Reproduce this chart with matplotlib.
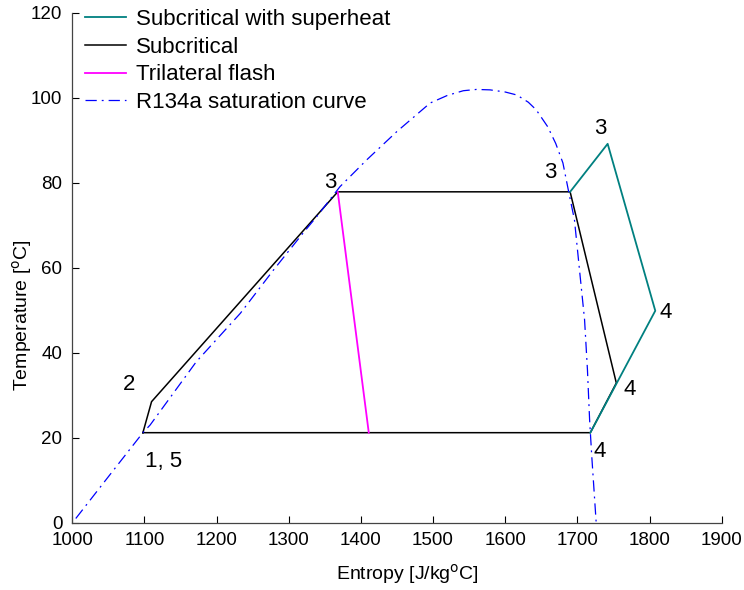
import matplotlib
matplotlib.use("Agg")
import matplotlib.pyplot as plt

plt.rcParams['font.family'] = ['Liberation Sans', 'DejaVu Sans']
plt.rcParams['font.size'] = 13.5

# cycle points (entropy J/kgC, temperature C)
sub_s = [1098, 1110, 1368, 1690, 1754, 1718, 1098]
sub_t = [21.2, 28.5, 77.9, 77.9, 32.9, 21.2, 21.2]

superheat_s = [1690, 1742, 1808, 1718]
superheat_t = [77.9, 89.2, 49.9, 21.2]

flash_s = [1368, 1411]
flash_t = [77.9, 21.2]

# R134a saturation dome
sat_s = [1005, 1050, 1098, 1108, 1172, 1233, 1279, 1320, 1339, 1371, 1408, 1450,
         1496, 1520, 1542, 1560, 1579, 1600, 1616, 1632, 1643, 1659, 1670, 1680,
         1688, 1696, 1703, 1710, 1714, 1717, 1720, 1726]
sat_t = [1.0, 10.8, 21.2, 23.0, 37.9, 49.3, 59.5, 68.2, 72.1, 79.1, 85.4, 92.1,
         98.8, 100.6, 101.7, 102.0, 101.9, 101.4, 100.7, 99.0, 97.2, 93.2, 89.3,
         84.7, 77.9, 71.3, 59.5, 47.8, 36.0, 24.2, 15.6, 0.3]

labels = ["3", "3", "3", "2", "1, 5", "4", "4", "4"]
label_s = [1357, 1663, 1732, 1079, 1126, 1822, 1773, 1731]
label_t = [80.2, 82.4, 92.7, 32.5, 14.4, 49.4, 31.3, 16.7]

fig = plt.figure(figsize=(7.44, 5.9), dpi=100)
ax = fig.add_axes([0.097, 0.114, 0.873, 0.864])

ax.plot(sub_s, sub_t, color='black', lw=1.1, label='Subcritical')
ax.plot(superheat_s, superheat_t, color='#008080', lw=1.3,
        label='Subcritical with superheat')
ax.plot(flash_s, flash_t, color='#ff00ff', lw=1.3, label='Trilateral flash')
ax.plot(sat_s, sat_t, color='blue', lw=0.9, linestyle=(0, (9, 4, 1.5, 4)),
        label='R134a saturation curve')

for txt, s, t in zip(labels, label_s, label_t):
    ax.text(s, t, txt, ha='center', va='center', fontsize=16)

ax.set_xlim(1000, 1900)
ax.set_ylim(0, 120)
ax.set_xticks(range(1000, 1901, 100))
ax.set_yticks(range(0, 121, 20))
ax.tick_params(direction='in', length=5, width=0.8, pad=7)
for side in ['top', 'right']:
    ax.spines[side].set_visible(False)
for side in ['left', 'bottom']:
    ax.spines[side].set_linewidth(0.9)
    ax.spines[side].set_color('#444444')

ax.set_xlabel('Entropy [J/kg$^{\\mathrm{o}}$C]', fontsize=14, va='center')
ax.set_ylabel('Temperature [$^{\\mathrm{o}}$C]', fontsize=14, va='center')
ax.xaxis.set_label_coords(0.517, -0.1)
ax.yaxis.set_label_coords(-0.077, 0.408)

h, l = ax.get_legend_handles_labels()
order = [1, 0, 2, 3]
ax.legend([h[i] for i in order], [l[i] for i in order], loc='upper left',
          frameon=False, handlelength=1.85, borderaxespad=0.0, labelspacing=0.3,
          handletextpad=0.45, fontsize=16, bbox_to_anchor=(0.006, 1.025))

fig.savefig('out.png', dpi=100)
